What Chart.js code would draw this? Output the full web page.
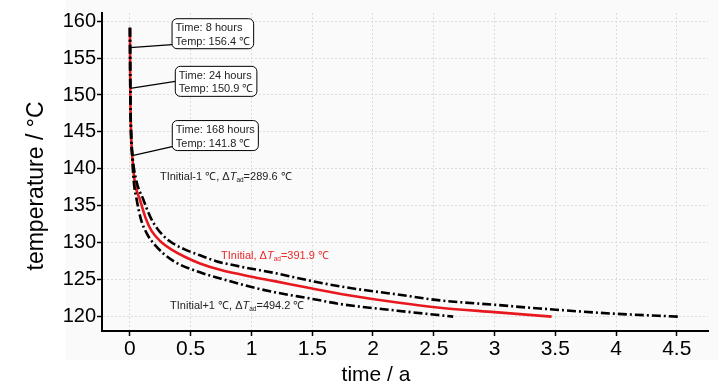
<!DOCTYPE html>
<html><head><meta charset="utf-8">
<script src="https://cdn.jsdelivr.net/npm/chart.js@4/dist/chart.umd.min.js"></script>
<style>html,body{margin:0;padding:0;background:#fff}#wrap{width:728px;height:390px;position:relative}</style>
</head><body><div id="wrap"><canvas id="c" width="728" height="390"></canvas></div>
<script>
const FONT = '"Liberation Sans Narrow","Arial Narrow","Liberation Sans",Arial,sans-serif';

// Series: TInitial (red)
const timeBase = [0, 0.0009, 0.0027, 0.008, 0.019, 0.04, 0.082, 0.13, 0.178, 0.25, 0.35, 0.45, 0.576, 0.75, 1.0, 1.19, 1.5, 1.8, 2.2, 2.55, 3.0, 3.47];
const tempBase = [159.1, 156.4, 150.9, 145.5, 141.8, 138.2, 135.85, 133.3, 131.6, 130.2, 129.0, 128.1, 127.2, 126.3, 125.4, 124.8, 123.8, 122.9, 121.9, 121.2, 120.6, 120.0];
// Series: TInitial-1 (black dash-dot, upper)
const timeMinus = [0, 0.0009, 0.0027, 0.008, 0.019, 0.05, 0.11, 0.17, 0.23, 0.32, 0.45, 0.576, 0.71, 0.9, 1.19, 1.5, 1.8, 2.2, 2.55, 3.0, 3.37, 3.98, 4.51];
const tempMinus = [159.1, 156.4, 150.9, 145.8, 142.2, 138.6, 135.85, 133.4, 131.8, 130.3, 129.1, 128.3, 127.5, 126.8, 125.9, 124.8, 123.9, 123.0, 122.2, 121.6, 121.1, 120.4, 120.0];
// Series: TInitial+1 (black dash-dot, lower)
const timePlus = [0, 0.0009, 0.0027, 0.008, 0.019, 0.03, 0.055, 0.09, 0.137, 0.2, 0.35, 0.576, 0.8, 1.0, 1.19, 1.5, 1.73, 2.2, 2.66];
const tempPlus = [159.1, 156.4, 150.9, 145.2, 141.5, 138.5, 135.85, 133.2, 131.3, 129.8, 127.6, 126.0, 124.9, 124.0, 123.3, 122.4, 121.7, 120.8, 120.0];

const xTicks = [0, 0.5, 1, 1.5, 2, 2.5, 3, 3.5, 4, 4.5];
const xTickLabels = ['0', '0.5', '1', '1.5', '2', '2.5', '3', '3.5', '4', '4.5'];
const yTicks = [120, 125, 130, 135, 140, 145, 150, 155, 160];
const yTickLabels = ['120', '125', '130', '135', '140', '145', '150', '155', '160'];

const annoHours = [8, 24, 168];
const annoTemps = [156.4, 150.9, 141.8];

const curveNames = ['TInitial-1 \u2103, ', 'TInitial, ', 'TInitial+1 \u2103, '];
const curveDTad = ['289.6', '391.9', '494.2'];

const xTitle = 'time / a';
const yTitle = 'temperature / \u00B0C';

const toPts = (xs, ys) => xs.map((x, i) => ({ x: x, y: ys[i] }));

const overlay = {
  id: 'overlay',
  beforeDraw(chart) {
    const ctx = chart.ctx;
    ctx.save();
    ctx.fillStyle = '#fafafa';
    ctx.fillRect(66, 0, 652, 360);
    ctx.restore();
  },
  afterDraw(chart) {
    const ctx = chart.ctx;
    const xs = chart.scales.x, ys = chart.scales.y;
    ctx.save();
    // axis titles
    ctx.fillStyle = '#000';
    ctx.textAlign = 'center';
    ctx.textBaseline = 'middle';
    ctx.font = '21px ' + FONT;
    ctx.fillText(xTitle, 376, 375);
    ctx.save();
    ctx.translate(37, 186);
    ctx.rotate(-Math.PI / 2);
    ctx.font = '23px ' + FONT;
    ctx.fillText(yTitle, 0, 0);
    ctx.restore();

    // annotation callouts
    const boxOff = [[42, -29, 26], [45, -22, 15], [40, -35, 26]];
    ctx.font = '11px ' + FONT;
    ctx.textAlign = 'left';
    ctx.textBaseline = 'alphabetic';
    annoHours.forEach((h, i) => {
      const px = xs.getPixelForValue(h / 8760);
      const py = ys.getPixelForValue(annoTemps[i]);
      const l1 = 'Time: ' + h + ' hours';
      const l2 = 'Temp: ' + annoTemps[i].toFixed(1) + ' \u2103';
      const w = Math.max(ctx.measureText(l1).width, ctx.measureText(l2).width) + 7;
      const bx = px + boxOff[i][0], by = py + boxOff[i][1], bh = 30;
      ctx.strokeStyle = '#000';
      ctx.lineWidth = 1.2;
      ctx.beginPath();
      ctx.moveTo(px, py);
      ctx.lineTo(bx, by + boxOff[i][2]);
      ctx.stroke();
      ctx.beginPath();
      ctx.roundRect(bx, by, w, bh, 5);
      ctx.fillStyle = '#fff';
      ctx.fill();
      ctx.lineWidth = 1;
      ctx.stroke();
      ctx.fillStyle = '#222';
      ctx.fillText(l1, bx + 3.5, by + 12.5);
      ctx.fillText(l2, bx + 3.5, by + 26);
    });

    // curve labels
    const labPos = [[0.247, 139.0], [0.75, 128.4], [0.33, 121.6]];
    const labCol = ['#222', '#e8282b', '#222'];
    labPos.forEach((p, i) => {
      let x = xs.getPixelForValue(p[0]);
      const y = ys.getPixelForValue(p[1]) + 4;
      ctx.fillStyle = labCol[i];
      ctx.font = '11px ' + FONT;
      const a = curveNames[i] + '\u0394';
      ctx.fillText(a, x, y); x += ctx.measureText(a).width;
      ctx.font = 'italic 11px ' + FONT;
      ctx.fillText('T', x, y); x += ctx.measureText('T').width;
      ctx.font = '6.5px ' + FONT;
      ctx.fillText('ad', x, y + 2); x += ctx.measureText('ad').width;
      ctx.font = '11px ' + FONT;
      ctx.fillText('=' + curveDTad[i] + ' \u2103', x, y);
    });
    ctx.restore();
  }
};

new Chart(document.getElementById('c'), {
  type: 'line',
  data: {
    datasets: [
      { label: 'TInitial', data: toPts(timeBase, tempBase), borderColor: '#e8191e', borderWidth: 2.6, pointRadius: 0, cubicInterpolationMode: 'monotone', order: 2 },
      { label: 'TInitial-1', data: toPts(timeMinus, tempMinus), borderColor: '#000', borderWidth: 2.6, borderDash: [9, 3, 2, 3], pointRadius: 0, cubicInterpolationMode: 'monotone', order: 1 },
      { label: 'TInitial+1', data: toPts(timePlus, tempPlus), borderColor: '#000', borderWidth: 2.6, borderDash: [9, 3, 2, 3], pointRadius: 0, cubicInterpolationMode: 'monotone', order: 1 }
    ]
  },
  options: {
    responsive: false,
    animation: false,
    layout: { padding: { left: 0, right: 20, top: 7, bottom: 0 } },
    plugins: { legend: { display: false }, tooltip: { enabled: false } },
    scales: {
      x: {
        type: 'linear', min: -0.23, max: 4.757,
        afterBuildTicks: s => { s.ticks = xTicks.map(v => ({ value: v })); },
        afterFit: s => { s.height = 59; },
        ticks: { callback: (v) => xTickLabels[xTicks.indexOf(v)], color: '#000', font: { family: FONT, size: 21 }, padding: 1, maxRotation: 0, autoSkip: false },
        grid: { color: '#dcdcdc', lineWidth: 1, tickColor: '#000', tickLength: 5, tickWidth: 1.5 },
        border: { color: '#000', width: 2, dash: [2, 2] }
      },
      y: {
        type: 'linear', min: 118.05, max: 161.1,
        afterBuildTicks: s => { s.ticks = yTicks.map(v => ({ value: v })); },
        afterFit: s => { s.width = 102; },
        ticks: { callback: (v) => yTickLabels[yTicks.indexOf(v)], color: '#000', font: { family: FONT, size: 20 }, padding: 1, autoSkip: false },
        grid: { color: '#dcdcdc', lineWidth: 1, tickColor: '#000', tickLength: 5, tickWidth: 1.5 },
        border: { color: '#000', width: 2, dash: [2, 2] }
      }
    }
  },
  plugins: [overlay]
});
</script></body></html>
